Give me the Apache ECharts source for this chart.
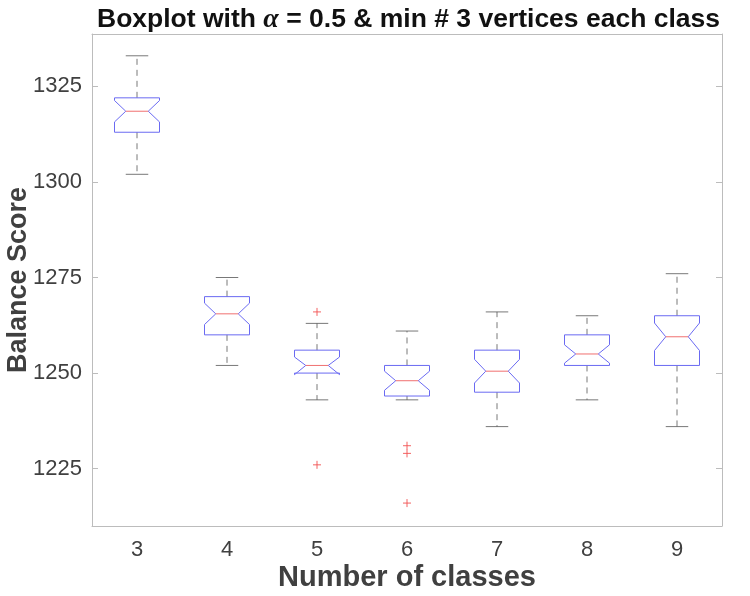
<!DOCTYPE html>
<html>
<head>
<meta charset="utf-8">
<script src="https://cdn.jsdelivr.net/npm/echarts@6/dist/echarts.min.js"></script>
<style>
  html, body { margin: 0; padding: 0; background: #fff; }
  #chart { width: 750px; height: 596px; }
</style>
</head>
<body>
<div id="chart"></div>
<script>
// number of classes
var categories = ['3', '4', '5', '6', '7', '8', '9'];
// boxplot stats
var whiskerLow  = [1302, 1252, 1243, 1243, 1236, 1243, 1236];
var q1          = [1313, 1260, 1250, 1244, 1245, 1252, 1252];
var medians     = [1318.5, 1265.5, 1252, 1248, 1250.5, 1255, 1259.5];
var q3          = [1322, 1270, 1256, 1252, 1256, 1260, 1265];
var whiskerHigh = [1333, 1275, 1263, 1261, 1266, 1265, 1276];
var notchLow    = [1315.7, 1262.7, 1249.6, 1245.5, 1247.4, 1252.6, 1255.9];
var notchHigh   = [1321.3, 1268.3, 1254.2, 1250.5, 1253.6, 1257.4, 1263.1];
// outliers: [category index, value]
var outliers = [[2, 1266], [2, 1226], [3, 1231], [3, 1229], [3, 1216]];
var yTicks = [1225, 1250, 1275, 1300, 1325];

var chart = echarts.init(document.getElementById('chart'));

var boxData = categories.map(function (c, i) {
  return [i, whiskerLow[i], q1[i], notchLow[i], medians[i], notchHigh[i], q3[i], whiskerHigh[i]];
});

var axisGray = '#bcbcbc';
var labelGray = '#404040';

function renderBox(params, api) {
  var i = api.value(0);
  var band = api.size([1, 0])[0];
  var cx = api.coord([i, 0])[0];
  var hw = band * 0.25;     // box half width
  var nw = hw * 0.5;        // notch half width
  var cw = band * 0.125;    // cap half width
  var y = function (v) { return api.coord([i, v])[1]; };
  var wlo = y(api.value(1)), bq1 = y(api.value(2)), nlo = y(api.value(3));
  var med = y(api.value(4)), nhi = y(api.value(5)), bq3 = y(api.value(6)), whi = y(api.value(7));
  var dash = { stroke: '#555', lineWidth: 0.8, lineDash: [6, 5] };
  var solid = { stroke: '#555', lineWidth: 0.8 };
  return {
    type: 'group',
    children: [
      { type: 'line', shape: { x1: cx, y1: bq3, x2: cx, y2: whi }, style: dash },
      { type: 'line', shape: { x1: cx, y1: bq1, x2: cx, y2: wlo }, style: dash },
      { type: 'line', shape: { x1: cx - cw, y1: whi, x2: cx + cw, y2: whi }, style: solid },
      { type: 'line', shape: { x1: cx - cw, y1: wlo, x2: cx + cw, y2: wlo }, style: solid },
      {
        type: 'polygon',
        shape: {
          points: [
            [cx - hw, bq3], [cx + hw, bq3], [cx + hw, nhi], [cx + nw, med],
            [cx + hw, nlo], [cx + hw, bq1], [cx - hw, bq1], [cx - hw, nlo],
            [cx - nw, med], [cx - hw, nhi]
          ]
        },
        style: { fill: 'none', stroke: '#6a6af2', lineWidth: 1 }
      },
      { type: 'line', shape: { x1: cx - nw, y1: med, x2: cx + nw, y2: med }, style: { stroke: '#f07070', lineWidth: 1 } }
    ]
  };
}

function renderOutlier(params, api) {
  var p = api.coord([api.value(0), api.value(1)]);
  var s = 4;
  var st = { stroke: '#f25050', lineWidth: 0.9 };
  return {
    type: 'group',
    children: [
      { type: 'line', shape: { x1: p[0] - s, y1: p[1], x2: p[0] + s, y2: p[1] }, style: st },
      { type: 'line', shape: { x1: p[0], y1: p[1] - s, x2: p[0], y2: p[1] + s }, style: st }
    ]
  };
}

chart.setOption({
  animation: false,
  title: {
    text: 'Boxplot with {a|α} = 0.5 & min # 3 vertices each class',
    left: 92,
    top: 1,
    textStyle: {
      fontFamily: 'Liberation Sans',
      fontWeight: 'bold',
      fontSize: 26.5,
      color: '#111',
      rich: {
        a: { fontFamily: 'Liberation Serif', fontStyle: 'italic', fontSize: 28, color: '#111' }
      }
    }
  },
  grid: { left: 92, right: 28, top: 34, bottom: 70, outerBoundsMode: 'none', containLabel: false },
  xAxis: [
    {
      type: 'category',
      data: categories,
      boundaryGap: true,
      name: 'Number of classes',
      nameLocation: 'middle',
      nameGap: 37,
      nameMoveOverlap: false,
      nameTextStyle: { fontFamily: 'Liberation Sans', fontWeight: 'bold', fontSize: 29, color: labelGray },
      axisLine: { lineStyle: { color: axisGray } },
      axisTick: { inside: true, alignWithLabel: true, length: 6, lineStyle: { color: axisGray } },
      axisLabel: { fontFamily: 'Liberation Sans', fontSize: 22, color: labelGray, margin: 13 },
      splitLine: { show: false }
    },
    {
      type: 'category',
      data: categories,
      position: 'top',
      boundaryGap: true,
      axisLine: { lineStyle: { color: axisGray } },
      axisTick: { inside: true, alignWithLabel: true, length: 6, lineStyle: { color: axisGray } },
      axisLabel: { show: false },
      splitLine: { show: false }
    }
  ],
  yAxis: [
    {
      type: 'value',
      min: 1210,
      max: 1338.7,
      name: 'Balance Score',
      nameLocation: 'middle',
      nameGap: 60,
      nameMoveOverlap: false,
      nameTextStyle: { fontFamily: 'Liberation Sans', fontWeight: 'bold', fontSize: 27, color: labelGray },
      axisLine: { show: true, lineStyle: { color: axisGray } },
      axisTick: { show: true, inside: true, length: 6, customValues: yTicks, lineStyle: { color: axisGray } },
      axisLabel: {
        fontFamily: 'Liberation Sans', fontSize: 22, color: labelGray, margin: 10, customValues: yTicks,
        formatter: function (v) { return String(v); }
      },
      splitLine: { show: false }
    },
    {
      type: 'value',
      min: 1210,
      max: 1338.7,
      position: 'right',
      axisLine: { show: true, lineStyle: { color: axisGray } },
      axisTick: { show: true, inside: true, length: 6, customValues: yTicks, lineStyle: { color: axisGray } },
      axisLabel: { show: false, customValues: yTicks },
      splitLine: { show: false }
    }
  ],
  series: [
    { type: 'custom', renderItem: renderBox, data: boxData, encode: { x: 0, y: [1, 7] }, clip: false },
    { type: 'custom', renderItem: renderOutlier, data: outliers, encode: { x: 0, y: 1 } }
  ]
});
</script>
</body>
</html>
